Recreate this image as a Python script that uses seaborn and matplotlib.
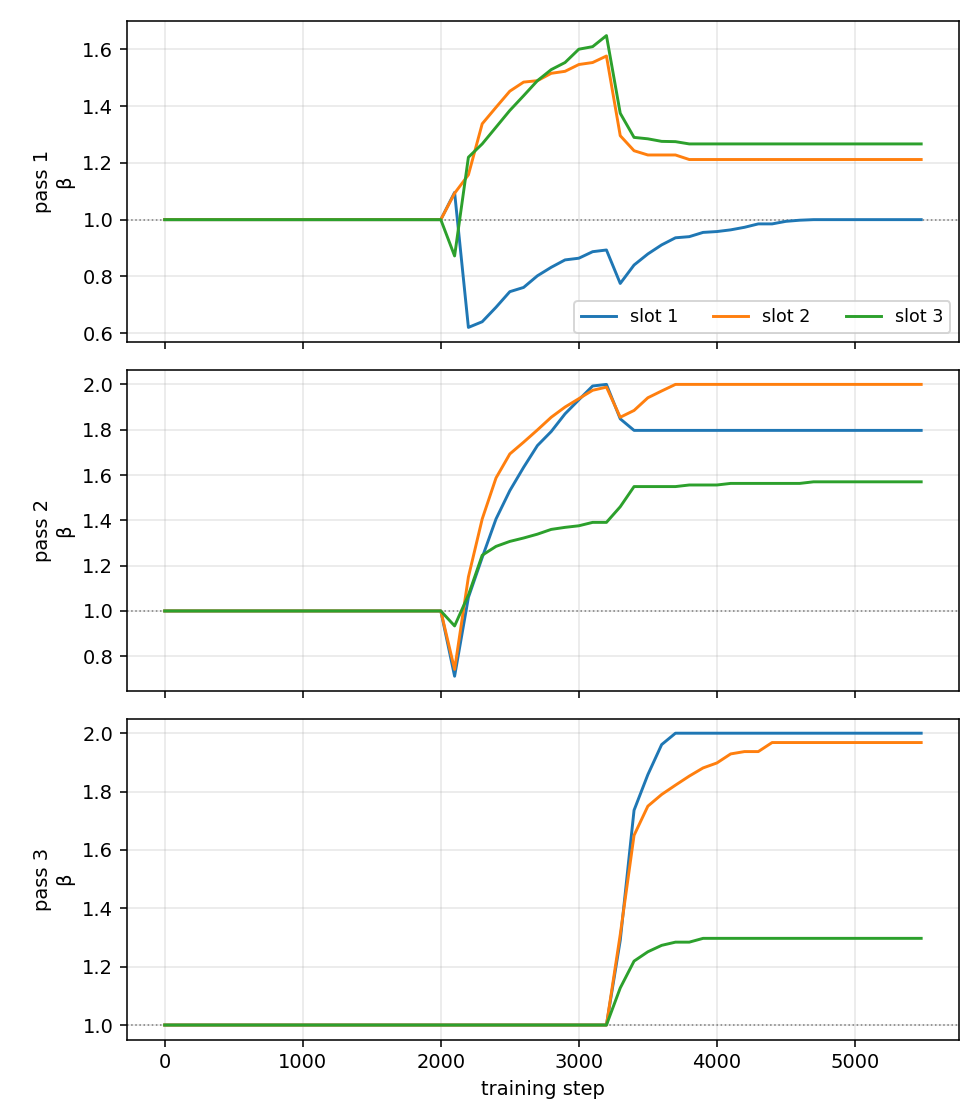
import numpy as np
import pandas as pd
import seaborn as sns
import matplotlib
matplotlib.use("Agg")
import matplotlib.pyplot as plt

# training steps (logged every 100, last one at the end of the run)
steps = list(range(0, 5500, 100)) + [5480]

slots = ["slot 1", "slot 2", "slot 3"]
passes = ["pass 1", "pass 2", "pass 3"]

# pass 1
p1_s1 = [1.0] * 21 + [1.096, 0.620, 0.640, 0.691, 0.746, 0.761, 0.802, 0.832, 0.858,
                     0.864, 0.887, 0.893, 0.775, 0.840, 0.879, 0.911, 0.936, 0.940,
                     0.955, 0.958, 0.964, 0.973, 0.985, 0.985, 0.994, 0.998, 1.0] + [1.0] * 8
p1_s2 = [1.0] * 21 + [1.093, 1.158, 1.338, 1.396, 1.453, 1.485, 1.490, 1.516, 1.523,
                     1.547, 1.554, 1.577, 1.296, 1.243, 1.228, 1.228, 1.228, 1.212] + [1.212] * 17
p1_s3 = [1.0] * 21 + [0.872, 1.220, 1.267, 1.326, 1.385, 1.437, 1.490, 1.529, 1.554,
                     1.601, 1.610, 1.649, 1.375, 1.290, 1.285, 1.276, 1.275, 1.267] + [1.267] * 17

# pass 2
p2_s1 = [1.0] * 21 + [0.712, 1.060, 1.236, 1.406, 1.531, 1.634, 1.730, 1.792, 1.870,
                     1.932, 1.993, 2.0, 1.848, 1.797] + [1.797] * 21
p2_s2 = [1.0] * 21 + [0.742, 1.150, 1.406, 1.587, 1.693, 1.745, 1.799, 1.855, 1.900,
                     1.937, 1.974, 1.988, 1.855, 1.885, 1.941, 1.971, 2.0] + [2.0] * 18
p2_s3 = [1.0] * 21 + [0.934, 1.070, 1.246, 1.285, 1.307, 1.322, 1.339, 1.360, 1.369,
                     1.376, 1.391, 1.391, 1.460, 1.549, 1.549, 1.549, 1.549, 1.556,
                     1.556, 1.556] + [1.563] * 6 + [1.570] * 9

# pass 3
p3_s1 = [1.0] * 33 + [1.290, 1.736, 1.858, 1.961, 2.0] + [2.0] * 18
p3_s2 = [1.0] * 33 + [1.310, 1.650, 1.750, 1.790, 1.822, 1.853, 1.881, 1.898, 1.929,
                     1.937, 1.937, 1.968] + [1.968] * 11
p3_s3 = [1.0] * 33 + [1.127, 1.219, 1.251, 1.273, 1.284, 1.284, 1.297] + [1.297] * 16

series = [[p1_s1, p1_s2, p1_s3],
          [p2_s1, p2_s2, p2_s3],
          [p3_s1, p3_s2, p3_s3]]

rows = []
for p, vals in zip(passes, series):
    for s, v in zip(slots, vals):
        for x, y in zip(steps, v):
            rows.append({"pass": p, "slot": s, "step": x, "beta": y})
df = pd.DataFrame(rows)

fig, axes = plt.subplots(3, 1, figsize=(7, 8), dpi=140, sharex=True)

for i, (ax, p) in enumerate(zip(axes, passes)):
    ax.axhline(1.0, color="gray", ls=":", lw=0.8)
    sns.lineplot(data=df[df["pass"] == p], x="step", y="beta", hue="slot",
                 hue_order=slots, palette="tab10", errorbar=None,
                 legend=(i == 0), ax=ax)
    ax.grid(alpha=0.3)
    ax.set_ylabel(p + "\nβ")
    ax.set_xlabel("")
    if i == 0:
        ax.legend(loc="lower right", ncol=3, fontsize=9)

axes[-1].set_xlabel("training step")
plt.tight_layout()
plt.savefig("out.png", dpi=140)
